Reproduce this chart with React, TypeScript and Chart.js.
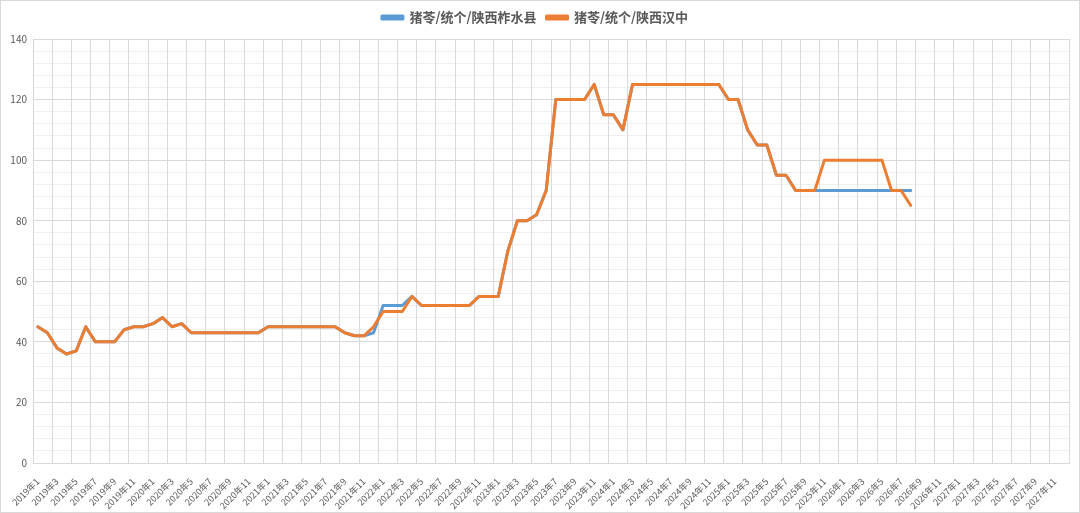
import { useEffect, useRef } from 'react';
import { Chart, registerables } from 'chart.js';

Chart.register(...registerables);

// months shown on the axis: 2019年1 ... 2027年12
const years = [2019, 2020, 2021, 2022, 2023, 2024, 2025, 2026, 2027];
const months = [1, 2, 3, 4, 5, 6, 7, 8, 9, 10, 11, 12];
const categories: string[] = [];
years.forEach((y) => months.forEach((m) => categories.push(`${y}年${m}`)));

// 猪苓/统个/陕西汉中
const hanzhong = [
  45, 43, 38, 36, 37, 45, 40, 40, 40, 44, 45, 45,
  46, 48, 45, 46, 43, 43, 43, 43, 43, 43, 43, 43,
  45, 45, 45, 45, 45, 45, 45, 45, 43, 42, 42, 45,
  50, 50, 50, 55, 52, 52, 52, 52, 52, 52, 55, 55,
  55, 70, 80, 80, 82, 90, 120, 120, 120, 120, 125, 115,
  115, 110, 125, 125, 125, 125, 125, 125, 125, 125, 125, 125,
  120, 120, 110, 105, 105, 95, 95, 90, 90, 90, 100, 100,
  100, 100, 100, 100, 100, 90, 90, 85,
];

// 猪苓/统个/陕西柞水县
const zhashui = [
  45, 43, 38, 36, 37, 45, 40, 40, 40, 44, 45, 45,
  46, 48, 45, 46, 43, 43, 43, 43, 43, 43, 43, 43,
  45, 45, 45, 45, 45, 45, 45, 45, 43, 42, 42, 43,
  52, 52, 52, 55, 52, 52, 52, 52, 52, 52, 55, 55,
  55, 70, 80, 80, 82, 90, 120, 120, 120, 120, 125, 115,
  115, 110, 125, 125, 125, 125, 125, 125, 125, 125, 125, 125,
  120, 120, 110, 105, 105, 95, 95, 90, 90, 90, 90, 90,
  90, 90, 90, 90, 90, 90, 90, 90,
];

const yTicks = [0, 20, 40, 60, 80, 100, 120, 140];

const pad = (arr: number[]) => categories.map((_, i) => (i < arr.length ? arr[i] : null));

// vertical grid every two months, on the slot boundaries
const xGridLines = categories.filter((_, i) => i % 2 === 0).map((_, k) => k * 2 - 0.5);
xGridLines.push(categories.length - 0.5);

const FONT = '"Noto Sans CJK SC", "Noto Sans", sans-serif';
const GRID = '#d9d9d9';
const TEXT = '#595959';

export default function App() {
  const canvasRef = useRef<HTMLCanvasElement>(null);

  useEffect(() => {
    document.body.style.margin = '0';
    if (!canvasRef.current) return;
    const ctx = canvasRef.current.getContext('2d');
    if (!ctx) return;

    const chart = new Chart(ctx, {
      type: 'line',
      data: {
        labels: categories,
        datasets: [
          {
            label: '猪苓/统个/陕西柞水县',
            data: pad(zhashui),
            borderColor: '#5b9bd5',
            backgroundColor: '#5b9bd5',
            borderWidth: 3,
            pointRadius: 0,
            borderJoinStyle: 'round',
            borderCapStyle: 'round',
            order: 1,
          },
          {
            label: '猪苓/统个/陕西汉中',
            data: pad(hanzhong),
            borderColor: '#ed7d31',
            backgroundColor: '#ed7d31',
            borderWidth: 3,
            pointRadius: 0,
            borderJoinStyle: 'round',
            borderCapStyle: 'round',
            order: 0,
          },
        ],
      },
      options: {
        animation: false,
        responsive: true,
        maintainAspectRatio: false,
        layout: { padding: { top: 0, right: 10, bottom: 0, left: 0 } },
        plugins: {
          tooltip: { enabled: false },
          legend: {
            position: 'top',
            labels: {
              boxWidth: 21,
              boxHeight: 3,
              padding: 10,
              color: TEXT,
              font: { family: FONT, size: 13, weight: 'bold' },
              sort: (a, b) => (a.datasetIndex ?? 0) - (b.datasetIndex ?? 0),
            },
          },
        },
        scales: {
          x: {
            type: 'category',
            offset: true,
            grid: { display: false },
            border: { color: GRID },
            ticks: {
              autoSkip: false,
              minRotation: 45,
              maxRotation: 45,
              padding: 5,
              color: TEXT,
              font: { family: FONT, size: 9 },
              callback: (_v, i) => (i % 2 === 0 ? categories[i] : ''),
            },
            afterFit: (s) => {
              s.height = 49;
            },
          },
          xGrid: {
            type: 'linear',
            position: 'top',
            min: -0.5,
            max: categories.length - 0.5,
            grid: { color: GRID, drawTicks: false },
            border: { display: false },
            ticks: { display: false },
            afterBuildTicks: (s) => {
              s.ticks = xGridLines.map((v) => ({ value: v }));
            },
            afterFit: (s) => {
              s.height = 5;
            },
          },
          yMinor: {
            type: 'linear',
            position: 'left',
            min: 0,
            max: 140,
            grid: { color: '#efefef', drawTicks: false, z: -2 },
            border: { display: false },
            ticks: { display: false, stepSize: 4 },
            afterFit: (s) => {
              s.width = 0;
            },
          },
          y: {
            type: 'linear',
            min: 0,
            max: 140,
            grid: { color: GRID, drawTicks: false },
            border: { display: false },
            afterBuildTicks: (s) => {
              s.ticks = yTicks.map((v) => ({ value: v }));
            },
            ticks: {
              padding: 6,
              color: TEXT,
              font: { family: FONT, size: 10 },
            },
            afterFit: (s) => {
              s.width = 32;
            },
          },
        },
      },
    });

    return () => chart.destroy();
  }, []);

  return (
    <div style={{ width: 1080, height: 513, border: `1px solid ${GRID}`, boxSizing: 'border-box', background: '#fff' }}>
      <div style={{ position: 'relative', width: '100%', height: '100%' }}>
        <canvas ref={canvasRef}></canvas>
      </div>
    </div>
  );
}
